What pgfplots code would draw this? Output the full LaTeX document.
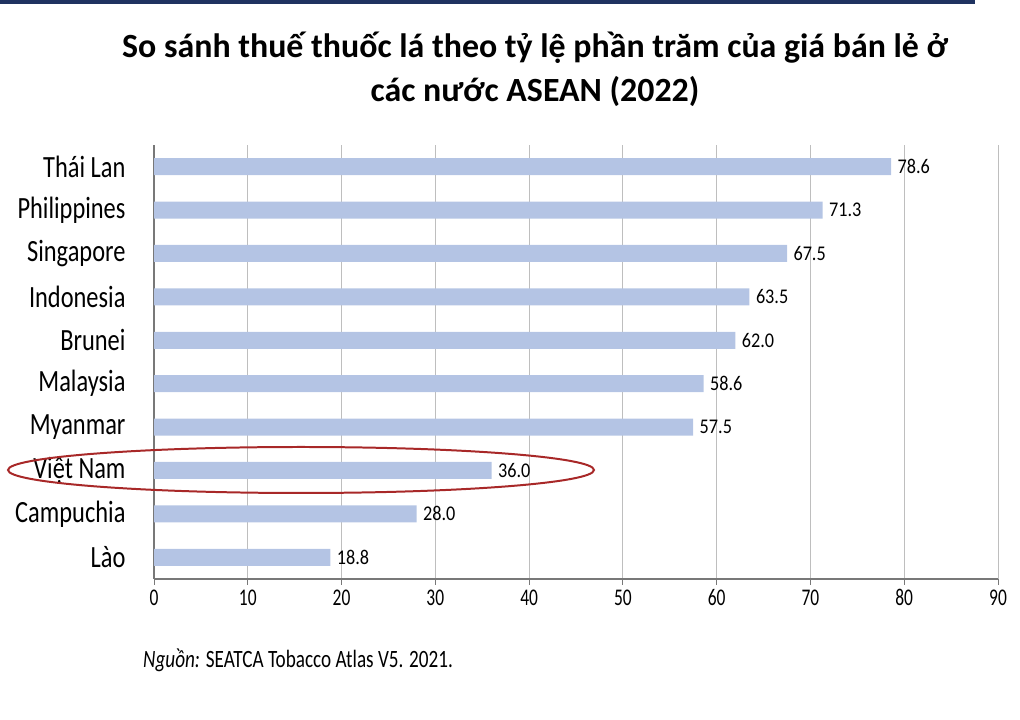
\documentclass[border=0pt]{standalone}
\usepackage{pgfplots}
\pgfplotsset{compat=1.18}
\usepackage{fontspec}
\setmainfont{Carlito}
\newfontfamily\catfont[FakeStretch=0.79]{Carlito}
\newfontfamily\tickfont[FakeStretch=0.73]{Carlito}
\newfontfamily\valfont[FakeStretch=0.87]{Carlito}
\newfontfamily\srcfont[FakeStretch=0.77]{Carlito}
\definecolor{barblue}{RGB}{180,196,228}
\definecolor{gridgray}{RGB}{190,190,190}
\definecolor{axisgray}{RGB}{120,120,120}
\definecolor{navy}{RGB}{31,50,96}
\definecolor{ellred}{RGB}{168,40,40}
\pgfplotstableread{
idx val
0 18.8
1 28.0
2 36.0
3 57.5
4 58.6
5 62.0
6 63.5
7 67.5
8 71.3
9 78.6
}\taxdata
\begin{document}
\begin{tikzpicture}[x=1bp,y=1bp]
\useasboundingbox (0,0) rectangle (1020,720);
\fill[navy] (0,716) rectangle (975,720);
\node[anchor=base, font=\fontsize{34}{40}\selectfont\bfseries] at (535,662) {So sánh thuế thuốc lá theo tỷ lệ phần trăm của giá bán lẻ ở};
\node[anchor=base, font=\fontsize{34}{40}\selectfont\bfseries] at (535,618) {các nước ASEAN (2022)};
\begin{axis}[
  at={(154bp,141bp)}, anchor=south west,
  scale only axis, width=844bp, height=434bp,
  xbar, bar width=17bp,
  xmin=0, xmax=90, ymin=-0.5, ymax=9.5,
  xtick={0,10,...,90},
  ytick={0,...,9},
  yticklabels={Lào,Campuchia,Việt Nam,Myanmar,Malaysia,Brunei,Indonesia,Singapore,Philippines,Thái Lan},
  extra y ticks={-0.5,0.5,...,9.5},
  extra y tick labels={},
  extra y tick style={major tick length=8bp, tick style={axisgray, line width=1.2pt}, tick align=outside, grid=none},
  y tick style={draw=none},
  x tick style={axisgray, line width=1pt},
  tick align=outside, major tick length=6bp,
  xmajorgrids, grid style={gridgray, line width=1pt},
  axis x line*=bottom, axis y line*=left,
  axis line style={axisgray, line width=1.2pt, -},
  y tick label style={font=\catfont\fontsize{31}{34}\selectfont, xshift=-19bp},
  x tick label style={font=\tickfont\fontsize{24}{26}\selectfont, yshift=-1bp},
  /pgf/number format/assume math mode=true,
  nodes near coords,
  nodes near coords style={font=\valfont\fontsize{21}{24}\selectfont, anchor=west, xshift=3bp, /pgf/number format/.cd, fixed, precision=1, zerofill},
  clip=false,
]
\addplot[fill=barblue, draw=none] table[x=val, y=idx] {\taxdata};
\end{axis}
\draw[ellred, line width=2pt] (301,250) ellipse [x radius=293, y radius=23];
\node[anchor=base west, inner sep=0pt, font=\srcfont\fontsize{25}{28}\selectfont] at (143,52) {\textit{Nguồn:} SEATCA Tobacco Atlas V5. 2021.};
\end{tikzpicture}
\end{document}
